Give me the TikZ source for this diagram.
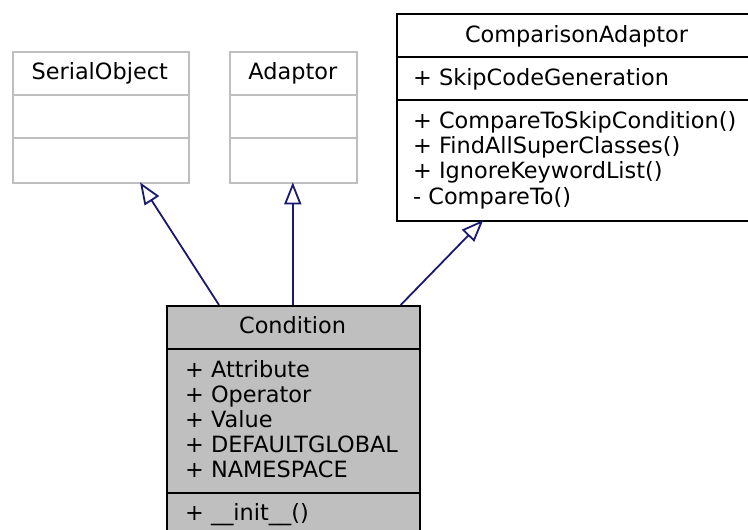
\documentclass[tikz,border=0pt]{standalone}
\usepackage{fontspec}
\setmainfont{DejaVu Sans}
\usetikzlibrary{arrows.meta}
\definecolor{edgeblue}{HTML}{191970}
\definecolor{lgray}{HTML}{BFBFBF}
\tikzset{
  classbox/.style={draw=black, line width=2pt, anchor=north west, inner sep=0pt},
  greybox/.style={draw=lgray, line width=2pt, anchor=north west, inner sep=0pt},
  txt/.style={anchor=base west, inner sep=0pt, font=\fontsize{22.4}{25}\selectfont},
  ttl/.style={anchor=base, inner sep=0pt, font=\fontsize{22.4}{25}\selectfont},
  inherit/.style={draw=edgeblue, line width=1.8pt, -{Triangle[open, length=22pt, width=17pt, fill=white]}}
}
\begin{document}
\begin{tikzpicture}[x=1pt, y=-1pt]
\useasboundingbox (0,0) rectangle (748,530);
% SerialObject
\node[greybox, minimum width=175.5pt, minimum height=131pt] (so) at (12,51) {};
\draw[lgray, line width=2pt] (12,95) -- (187.5,95);
\draw[lgray, line width=2pt] (12,138.3) -- (187.5,138.3);
\node[ttl] (sot) at (99.75,79) {SerialObject};
% Adaptor
\node[greybox, minimum width=127pt, minimum height=131pt] (ad) at (229.3,51) {};
\draw[lgray, line width=2pt] (229.3,95) -- (356.3,95);
\draw[lgray, line width=2pt] (229.3,138.3) -- (356.3,138.3);
\node[ttl] (adt) at (292.8,79) {Adaptor};
% ComparisonAdaptor
\node[classbox, minimum width=353pt, minimum height=206.7pt] (ca) at (395.7,13.3) {};
\draw[line width=2pt] (395.7,57.3) -- (748,57.3);
\draw[line width=2pt] (395.7,100) -- (748,100);
\node[ttl] (cat) at (576.5,42) {ComparisonAdaptor};
\node[txt] (ca1) at (413,85) {+ SkipCodeGeneration};
\node[txt] (ca2) at (413,128.3) {+ CompareToSkipCondition()};
\node[txt] (ca3) at (413,153.6) {+ FindAllSuperClasses()};
\node[txt] (ca4) at (413,178.9) {+ IgnoreKeywordList()};
\node[txt] (ca5) at (413,204.2) {- CompareTo()};
% Condition
\node[classbox, fill=lgray, minimum width=253.3pt, minimum height=230pt] (co) at (166,305) {};
\draw[line width=2pt] (166,349) -- (419.3,349);
\draw[line width=2pt] (166,493.3) -- (419.3,493.3);
\node[ttl] (cot) at (292.6,333) {Condition};
\node[txt] (co1) at (185,377) {+ Attribute};
\node[txt] (co2) at (185,402.2) {+ Operator};
\node[txt] (co3) at (185,427.4) {+ Value};
\node[txt] (co4) at (185,452.6) {+ DEFAULTGLOBAL};
\node[txt] (co5) at (185,477.8) {+ NAMESPACE};
\node[txt] (co6) at (185,520) {+ \_\_init\_\_()};
% inheritance arrows
\coordinate (s1) at (219,305);
\coordinate (e1) at (140,182.3);
\coordinate (s2) at (292.8,305);
\coordinate (e2) at (292.8,182.3);
\coordinate (s3) at (400.7,305);
\coordinate (e3) at (483.3,220);
\draw[inherit] (s1) -- (e1);
\draw[inherit] (s2) -- (e2);
\draw[inherit] (s3) -- (e3);
\end{tikzpicture}
\end{document}
